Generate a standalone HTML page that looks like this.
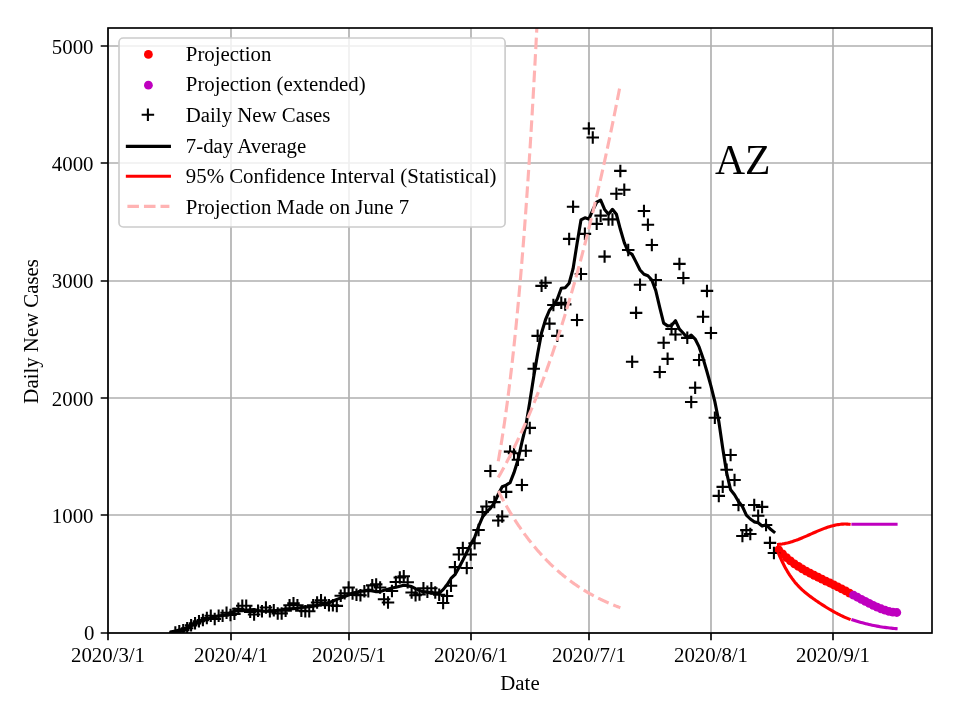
<!DOCTYPE html>
<html><head><meta charset="utf-8"><style>html,body{margin:0;padding:0;background:#fff;}svg{display:block;will-change:transform;}</style></head>
<body><svg width="960" height="720" viewBox="0 0 960 720">
<defs><clipPath id="ax"><rect x="108" y="28" width="824" height="605"/></clipPath></defs>
<rect width="960" height="720" fill="#fff"/>
<path d="M108 28V633M231 28V633M349 28V633M471 28V633M589 28V633M711 28V633M833 28V633M108 633H932M108 515H932M108 398H932M108 281H932M108 163H932M108 46H932" stroke="#b0b0b0" stroke-width="1.67" fill="none"/>
<g clip-path="url(#ax)">
<circle cx="778.66" cy="549.83" r="4.4" fill="#ff0000"/><circle cx="782.60" cy="553.95" r="4.4" fill="#ff0000"/><circle cx="786.54" cy="557.61" r="4.4" fill="#ff0000"/><circle cx="790.47" cy="560.88" r="4.4" fill="#ff0000"/><circle cx="794.41" cy="563.81" r="4.4" fill="#ff0000"/><circle cx="798.35" cy="566.46" r="4.4" fill="#ff0000"/><circle cx="802.29" cy="568.89" r="4.4" fill="#ff0000"/><circle cx="806.23" cy="571.14" r="4.4" fill="#ff0000"/><circle cx="810.16" cy="573.25" r="4.4" fill="#ff0000"/><circle cx="814.10" cy="575.27" r="4.4" fill="#ff0000"/><circle cx="818.04" cy="577.23" r="4.4" fill="#ff0000"/><circle cx="821.98" cy="579.15" r="4.4" fill="#ff0000"/><circle cx="825.92" cy="581.06" r="4.4" fill="#ff0000"/><circle cx="829.85" cy="582.98" r="4.4" fill="#ff0000"/><circle cx="833.79" cy="584.92" r="4.4" fill="#ff0000"/><circle cx="837.73" cy="586.89" r="4.4" fill="#ff0000"/><circle cx="841.67" cy="588.90" r="4.4" fill="#ff0000"/><circle cx="845.61" cy="590.95" r="4.4" fill="#ff0000"/><circle cx="849.54" cy="593.03" r="4.4" fill="#ff0000"/><circle cx="853.48" cy="595.13" r="4.4" fill="#bf00bf"/><circle cx="857.42" cy="597.25" r="4.4" fill="#bf00bf"/><circle cx="861.36" cy="599.35" r="4.4" fill="#bf00bf"/><circle cx="865.30" cy="601.43" r="4.4" fill="#bf00bf"/><circle cx="869.23" cy="603.44" r="4.4" fill="#bf00bf"/><circle cx="873.17" cy="605.36" r="4.4" fill="#bf00bf"/><circle cx="877.11" cy="607.15" r="4.4" fill="#bf00bf"/><circle cx="881.05" cy="608.77" r="4.4" fill="#bf00bf"/><circle cx="884.99" cy="610.16" r="4.4" fill="#bf00bf"/><circle cx="888.92" cy="611.29" r="4.4" fill="#bf00bf"/><circle cx="892.86" cy="612.09" r="4.4" fill="#bf00bf"/><circle cx="896.80" cy="612.50" r="4.4" fill="#bf00bf"/>
<path d="M169.10 632.41h12.5M175.35 626.16v12.5M173.03 631.36h12.5M179.28 625.11v12.5M176.97 630.30h12.5M183.22 624.05v12.5M180.91 628.30h12.5M187.16 622.05v12.5M184.85 625.37h12.5M191.10 619.12v12.5M188.79 623.37h12.5M195.04 617.12v12.5M192.72 621.26h12.5M198.97 615.01v12.5M196.66 620.09h12.5M202.91 613.84v12.5M200.60 617.97h12.5M206.85 611.72v12.5M204.54 615.74h12.5M210.79 609.49v12.5M208.48 618.91h12.5M214.73 612.66v12.5M212.41 615.74h12.5M218.66 609.49v12.5M216.35 615.74h12.5M222.60 609.49v12.5M220.29 612.81h12.5M226.54 606.56v12.5M224.23 615.04h12.5M230.48 608.79v12.5M228.17 613.86h12.5M234.42 607.61v12.5M232.10 608.82h12.5M238.35 602.57v12.5M236.04 605.76h12.5M242.29 599.51v12.5M239.98 605.76h12.5M246.23 599.51v12.5M243.92 611.87h12.5M250.17 605.62v12.5M247.86 614.45h12.5M254.11 608.20v12.5M251.79 610.81h12.5M258.04 604.56v12.5M255.73 611.28h12.5M261.98 605.03v12.5M259.67 607.52h12.5M265.92 601.27v12.5M263.61 611.28h12.5M269.86 605.03v12.5M267.55 610.34h12.5M273.80 604.09v12.5M271.48 613.39h12.5M277.73 607.14v12.5M275.42 613.39h12.5M281.67 607.14v12.5M279.36 610.81h12.5M285.61 604.56v12.5M283.30 605.29h12.5M289.55 599.04v12.5M287.24 603.30h12.5M293.49 597.05v12.5M291.17 605.29h12.5M297.42 599.04v12.5M295.11 610.81h12.5M301.36 604.56v12.5M299.05 611.28h12.5M305.30 605.03v12.5M302.99 611.28h12.5M309.24 605.03v12.5M306.93 605.29h12.5M313.18 599.04v12.5M310.86 602.48h12.5M317.11 596.23v12.5M314.80 600.25h12.5M321.05 594.00v12.5M318.74 602.83h12.5M324.99 596.58v12.5M322.68 605.29h12.5M328.93 599.04v12.5M326.62 605.29h12.5M332.87 599.04v12.5M330.55 605.88h12.5M336.80 599.63v12.5M334.49 595.78h12.5M340.74 589.53v12.5M338.43 593.20h12.5M344.68 586.95v12.5M342.37 587.45h12.5M348.62 581.20v12.5M346.31 593.44h12.5M352.56 587.19v12.5M350.24 594.85h12.5M356.49 588.60v12.5M354.18 595.31h12.5M360.43 589.06v12.5M358.12 591.32h12.5M364.37 585.07v12.5M362.06 591.32h12.5M368.31 585.07v12.5M366.00 585.34h12.5M372.25 579.09v12.5M369.93 584.40h12.5M376.18 578.15v12.5M373.87 587.45h12.5M380.12 581.20v12.5M377.81 599.31h12.5M384.06 593.06v12.5M381.75 602.48h12.5M388.00 596.23v12.5M385.69 590.97h12.5M391.94 584.72v12.5M389.62 581.93h12.5M395.87 575.68v12.5M393.56 577.47h12.5M399.81 571.22v12.5M397.50 576.18h12.5M403.75 569.93v12.5M401.44 582.17h12.5M407.69 575.92v12.5M405.38 592.50h12.5M411.63 586.25v12.5M409.31 595.31h12.5M415.56 589.06v12.5M413.25 594.49h12.5M419.50 588.24v12.5M417.19 588.27h12.5M423.44 582.02v12.5M421.13 591.68h12.5M427.38 585.43v12.5M425.07 588.27h12.5M431.32 582.02v12.5M429.00 592.50h12.5M435.25 586.25v12.5M432.94 594.73h12.5M439.19 588.48v12.5M436.88 602.95h12.5M443.13 596.70v12.5M440.82 596.02h12.5M447.07 589.77v12.5M444.76 585.81h12.5M451.01 579.56v12.5M448.69 567.14h12.5M454.94 560.89v12.5M452.63 554.58h12.5M458.88 548.33v12.5M456.57 548.00h12.5M462.82 541.75v12.5M460.51 567.96h12.5M466.76 561.71v12.5M464.45 554.58h12.5M470.70 548.33v12.5M468.38 543.31h12.5M474.63 537.06v12.5M472.32 530.04h12.5M478.57 523.79v12.5M476.26 511.96h12.5M482.51 505.71v12.5M480.20 506.56h12.5M486.45 500.31v12.5M484.14 470.99h12.5M490.39 464.74v12.5M488.07 502.10h12.5M494.32 495.85v12.5M492.01 520.53h12.5M498.26 514.28v12.5M495.95 516.54h12.5M502.20 510.29v12.5M499.89 491.89h12.5M506.14 485.64v12.5M503.83 451.62h12.5M510.08 445.37v12.5M507.76 453.26h12.5M514.01 447.01v12.5M511.70 459.83h12.5M517.95 453.58v12.5M515.64 484.96h12.5M521.89 478.71v12.5M519.58 450.68h12.5M525.83 444.43v12.5M523.52 427.90h12.5M529.77 421.65v12.5M527.45 368.73h12.5M533.70 362.48v12.5M531.39 335.86h12.5M537.64 329.61v12.5M535.33 285.85h12.5M541.58 279.60v12.5M539.27 282.80h12.5M545.52 276.55v12.5M543.21 323.65h12.5M549.46 317.40v12.5M547.14 304.98h12.5M553.39 298.73v12.5M551.08 335.86h12.5M557.33 329.61v12.5M555.02 302.87h12.5M561.27 296.62v12.5M558.96 304.40h12.5M565.21 298.15v12.5M562.90 238.89h12.5M569.15 232.64v12.5M566.83 206.72h12.5M573.08 200.47v12.5M570.77 320.01h12.5M577.02 313.76v12.5M574.71 273.99h12.5M580.96 267.74v12.5M578.65 233.84h12.5M584.90 227.59v12.5M582.59 128.53h12.5M588.84 122.28v12.5M586.52 137.57h12.5M592.77 131.32v12.5M590.46 223.86h12.5M596.71 217.61v12.5M594.40 215.64h12.5M600.65 209.39v12.5M598.34 256.62h12.5M604.59 250.37v12.5M602.28 219.40h12.5M608.53 213.15v12.5M606.21 219.40h12.5M612.46 213.15v12.5M610.15 193.69h12.5M616.40 187.44v12.5M614.09 170.91h12.5M620.34 164.66v12.5M618.03 189.81h12.5M624.28 183.56v12.5M621.97 250.04h12.5M628.22 243.79v12.5M625.90 361.69h12.5M632.15 355.44v12.5M629.84 312.85h12.5M636.09 306.60v12.5M633.78 284.67h12.5M640.03 278.42v12.5M637.72 210.95h12.5M643.97 204.70v12.5M641.66 224.68h12.5M647.91 218.43v12.5M645.59 244.99h12.5M651.84 238.74v12.5M649.53 279.98h12.5M655.78 273.73v12.5M653.47 372.02h12.5M659.72 365.77v12.5M657.41 342.79h12.5M663.66 336.54v12.5M661.35 358.87h12.5M667.60 352.62v12.5M665.28 328.93h12.5M671.53 322.68v12.5M669.22 334.45h12.5M675.47 328.20v12.5M673.16 263.89h12.5M679.41 257.64v12.5M677.10 277.98h12.5M683.35 271.73v12.5M681.04 337.86h12.5M687.29 331.61v12.5M684.97 401.96h12.5M691.22 395.71v12.5M688.91 387.75h12.5M695.16 381.50v12.5M692.85 360.05h12.5M699.10 353.80v12.5M696.79 316.72h12.5M703.04 310.47v12.5M700.73 290.90h12.5M706.98 284.65v12.5M704.66 333.04h12.5M710.91 326.79v12.5M708.60 417.81h12.5M714.85 411.56v12.5M712.54 495.88h12.5M718.79 489.63v12.5M716.48 486.84h12.5M722.73 480.59v12.5M720.42 469.81h12.5M726.67 463.56v12.5M724.35 455.02h12.5M730.60 448.77v12.5M728.29 480.03h12.5M734.54 473.78v12.5M732.23 505.03h12.5M738.48 498.78v12.5M736.17 536.03h12.5M742.42 529.78v12.5M740.11 530.16h12.5M746.36 523.91v12.5M744.04 534.03h12.5M750.29 527.78v12.5M747.98 505.03h12.5M754.23 498.78v12.5M751.92 515.83h12.5M758.17 509.58v12.5M755.86 506.91h12.5M762.11 500.66v12.5M759.80 524.99h12.5M766.05 518.74v12.5M763.73 542.84h12.5M769.98 536.59v12.5M767.67 552.93h12.5M773.92 546.68v12.5" stroke="#000" stroke-width="2.08" fill="none"/>
<polyline points="171.41,631.77 175.35,631.07 179.28,630.12 183.22,629.16 187.16,627.48 191.10,625.72 195.04,623.81 198.97,621.73 202.91,620.39 206.85,619.01 210.79,617.92 214.73,616.71 218.66,615.99 222.60,615.41 226.54,614.42 230.48,612.54 234.42,611.11 238.35,610.56 242.29,610.79 246.23,610.19 250.17,609.82 254.11,609.64 258.04,610.43 261.98,611.08 265.92,611.30 269.86,611.15 273.80,611.15 277.73,610.29 281.67,609.69 285.61,608.83 289.55,608.90 293.49,608.60 297.42,608.30 301.36,607.51 305.30,607.10 309.24,606.67 313.18,606.32 317.11,605.53 321.05,604.67 324.99,603.90 328.93,602.54 332.87,601.22 336.80,599.39 340.74,598.05 344.68,596.56 348.62,595.13 352.56,593.05 356.49,592.41 360.43,591.29 364.37,590.85 368.31,590.00 372.25,590.64 376.18,591.66 380.12,591.61 384.06,590.27 388.00,589.14 391.94,587.97 395.87,587.21 399.81,586.24 403.75,585.22 407.69,585.72 411.63,586.63 415.56,588.66 419.50,590.38 423.44,591.86 427.38,592.18 431.32,593.27 435.25,593.49 439.19,593.13 443.13,589.63 447.07,584.82 451.01,578.46 454.94,574.64 458.88,567.73 462.82,560.20 466.76,552.23 470.70,544.35 474.63,537.49 478.57,526.48 482.51,517.08 486.45,512.21 490.39,508.39 494.32,502.94 498.26,494.32 502.20,486.70 506.14,485.11 510.08,482.66 514.01,472.68 517.95,460.02 521.89,442.43 525.83,425.89 529.77,401.97 533.70,376.68 537.64,353.64 541.58,332.82 545.52,319.68 549.46,310.27 553.39,305.77 557.33,299.06 561.27,288.20 565.21,287.68 569.15,283.25 573.08,268.67 577.02,243.77 580.96,219.94 584.90,217.79 588.84,219.06 592.77,210.01 596.71,202.21 600.65,200.15 604.59,209.45 608.53,214.22 612.46,209.35 616.40,214.27 620.34,229.28 624.28,242.63 628.22,251.95 632.15,254.42 636.09,262.10 640.03,269.98 643.97,274.26 647.91,275.74 651.84,280.01 655.78,290.61 659.72,307.47 663.66,323.15 667.60,325.85 671.53,325.56 675.47,320.68 679.41,329.14 683.35,333.26 687.29,337.71 691.22,335.17 695.16,339.03 699.10,346.90 703.04,358.32 706.98,371.73 710.91,385.89 714.85,401.57 718.79,421.33 722.73,448.35 726.67,472.92 730.60,489.81 734.54,494.70 738.48,501.44 742.42,506.48 746.36,515.16 750.29,519.00 754.23,521.86 758.17,522.83 762.11,526.08 766.05,524.76 769.98,528.70 773.92,531.92" stroke="#000" stroke-width="3.125" fill="none" stroke-linejoin="round" stroke-linecap="square"/>
<polyline points="777.00,544.45 778.25,544.40 779.49,544.30 780.74,544.18 781.99,544.02 783.24,543.82 784.48,543.60 785.73,543.34 786.98,543.06 788.23,542.75 789.47,542.41 790.72,542.05 791.97,541.67 793.22,541.26 794.46,540.84 795.71,540.39 796.96,539.93 798.21,539.46 799.45,538.96 800.70,538.46 801.95,537.95 803.20,537.42 804.44,536.89 805.69,536.35 806.94,535.81 808.19,535.26 809.43,534.71 810.68,534.15 811.93,533.60 813.18,533.05 814.42,532.50 815.67,531.96 816.92,531.42 818.17,530.89 819.41,530.37 820.66,529.86 821.91,529.37 823.16,528.88 824.40,528.41 825.65,527.96 826.90,527.52 828.15,527.10 829.39,526.70 830.64,526.33 831.89,525.98 833.14,525.65 834.38,525.35 835.63,525.08 836.88,524.83 838.13,524.62 839.37,524.44 840.62,524.29 841.87,524.17 843.12,524.10 844.36,524.06 845.61,524.06 846.86,524.10 848.11,524.18 849.35,524.31 850.60,524.48" stroke="#ff0000" stroke-width="3.125" fill="none" stroke-linejoin="round"/>
<polyline points="777.30,550.47 778.54,553.50 779.78,556.40 781.03,559.16 782.27,561.79 783.51,564.29 784.75,566.67 786.00,568.93 787.24,571.08 788.48,573.12 789.72,575.06 790.97,576.90 792.21,578.65 793.45,580.31 794.69,581.88 795.94,583.38 797.18,584.80 798.42,586.15 799.66,587.44 800.91,588.66 802.15,589.83 803.39,590.95 804.63,592.03 805.87,593.06 807.12,594.06 808.36,595.03 809.60,595.97 810.84,596.88 812.09,597.78 813.33,598.67 814.57,599.55 815.81,600.41 817.06,601.27 818.30,602.12 819.54,602.95 820.78,603.78 822.03,604.59 823.27,605.40 824.51,606.19 825.75,606.97 826.99,607.74 828.24,608.49 829.48,609.23 830.72,609.96 831.96,610.68 833.21,611.38 834.45,612.07 835.69,612.75 836.93,613.41 838.18,614.05 839.42,614.68 840.66,615.30 841.90,615.90 843.15,616.49 844.39,617.05 845.63,617.61 846.87,618.14 848.12,618.66 849.36,619.17 850.60,619.65" stroke="#ff0000" stroke-width="3.125" fill="none" stroke-linejoin="round"/>
<polyline points="851.4,524.3 897.6,524.3" stroke="#bf00bf" stroke-width="3.125" fill="none"/>
<polyline points="851.40,619.51 852.99,620.03 854.59,620.54 856.18,621.03 857.77,621.51 859.37,621.98 860.96,622.43 862.55,622.86 864.14,623.28 865.74,623.68 867.33,624.07 868.92,624.45 870.52,624.81 872.11,625.16 873.70,625.49 875.30,625.81 876.89,626.11 878.48,626.40 880.08,626.67 881.67,626.93 883.26,627.17 884.86,627.40 886.45,627.62 888.04,627.82 889.63,628.00 891.23,628.17 892.82,628.33 894.41,628.47 896.01,628.60 897.60,628.71" stroke="#bf00bf" stroke-width="3.125" fill="none" stroke-linejoin="round"/>
<polyline points="498.26,461.24 498.55,459.60 498.84,457.95 499.13,456.28 499.42,454.59 499.72,452.89 500.01,451.18 500.30,449.44 500.59,447.69 500.88,445.92 501.17,444.14 501.46,442.34 501.75,440.52 502.04,438.69 502.33,436.83 502.62,434.96 502.91,433.07 503.20,431.17 503.50,429.24 503.79,427.30 504.08,425.34 504.37,423.36 504.66,421.36 504.95,419.34 505.24,417.30 505.53,415.25 505.82,413.17 506.11,411.08 506.40,408.96 506.69,406.82 506.98,404.67 507.27,402.49 507.57,400.29 507.86,398.07 508.15,395.83 508.44,393.57 508.73,391.29 509.02,388.98 509.31,386.65 509.60,384.31 509.89,381.93 510.18,379.54 510.47,377.12 510.76,374.68 511.05,372.22 511.34,369.73 511.64,367.22 511.93,364.69 512.22,362.13 512.51,359.55 512.80,356.94 513.09,354.31 513.38,351.65 513.67,348.97 513.96,346.26 514.25,343.52 514.54,340.76 514.83,337.98 515.12,335.16 515.41,332.32 515.71,329.46 516.00,326.56 516.29,323.64 516.58,320.69 516.87,317.71 517.16,314.71 517.45,311.67 517.74,308.61 518.03,305.51 518.32,302.39 518.61,299.24 518.90,296.05 519.19,292.84 519.48,289.60 519.78,286.32 520.07,283.02 520.36,279.68 520.65,276.31 520.94,272.91 521.23,269.48 521.52,266.01 521.81,262.51 522.10,258.98 522.39,255.41 522.68,251.81 522.97,248.18 523.26,244.51 523.56,240.80 523.85,237.06 524.14,233.29 524.43,229.47 524.72,225.63 525.01,221.74 525.30,217.82 525.59,213.86 525.88,209.86 526.17,205.83 526.46,201.76 526.75,197.64 527.04,193.49 527.33,189.30 527.63,185.07 527.92,180.80 528.21,176.49 528.50,172.13 528.79,167.74 529.08,163.30 529.37,158.82 529.66,154.30 529.95,149.74 530.24,145.13 530.53,140.48 530.82,135.78 531.11,131.04 531.40,126.25 531.70,121.42 531.99,116.54 532.28,111.62 532.57,106.65 532.86,101.63 533.15,96.56 533.44,91.44 533.73,86.28 534.02,81.07 534.31,75.80 534.60,70.49 534.89,65.13 535.18,59.71 535.47,54.24 535.77,48.73 536.06,43.15 536.35,37.53 536.64,31.85 536.93,26.12 537.22,20.33 537.51,14.49 537.80,8.59 538.09,2.64 538.38,-3.37 538.67,-9.44 538.96,-15.57 539.25,-21.75 539.54,-28.00 539.84,-34.30 540.13,-40.66 540.42,-47.09 540.71,-53.57 541.00,-60.12 541.29,-66.73 541.58,-73.40" stroke="#ffb3b3" stroke-width="3.125" fill="none" stroke-dasharray="11.56 5"/>
<polyline points="498.26,477.52 499.08,476.09 499.90,474.64 500.72,473.19 501.54,471.72 502.36,470.24 503.18,468.74 504.00,467.24 504.82,465.72 505.64,464.19 506.46,462.65 507.27,461.09 508.09,459.53 508.91,457.95 509.73,456.36 510.55,454.75 511.37,453.13 512.19,451.50 513.01,449.86 513.83,448.20 514.65,446.53 515.47,444.85 516.29,443.15 517.11,441.44 517.93,439.72 518.74,437.98 519.56,436.23 520.38,434.47 521.20,432.69 522.02,430.90 522.84,429.09 523.66,427.27 524.48,425.44 525.30,423.59 526.12,421.72 526.94,419.84 527.76,417.95 528.58,416.04 529.40,414.12 530.22,412.19 531.03,410.23 531.85,408.27 532.67,406.28 533.49,404.29 534.31,402.27 535.13,400.25 535.95,398.20 536.77,396.14 537.59,394.07 538.41,391.98 539.23,389.87 540.05,387.75 540.87,385.61 541.69,383.45 542.51,381.28 543.32,379.09 544.14,376.89 544.96,374.66 545.78,372.43 546.60,370.17 547.42,367.90 548.24,365.61 549.06,363.31 549.88,360.98 550.70,358.64 551.52,356.28 552.34,353.91 553.16,351.51 553.98,349.10 554.79,346.67 555.61,344.23 556.43,341.76 557.25,339.28 558.07,336.78 558.89,334.26 559.71,331.72 560.53,329.16 561.35,326.59 562.17,323.99 562.99,321.38 563.81,318.75 564.63,316.10 565.45,313.42 566.27,310.73 567.08,308.02 567.90,305.30 568.72,302.55 569.54,299.78 570.36,296.99 571.18,294.18 572.00,291.35 572.82,288.50 573.64,285.63 574.46,282.74 575.28,279.83 576.10,276.90 576.92,273.95 577.74,270.97 578.55,267.98 579.37,264.96 580.19,261.93 581.01,258.87 581.83,255.79 582.65,252.69 583.47,249.56 584.29,246.42 585.11,243.25 585.93,240.06 586.75,236.85 587.57,233.62 588.39,230.36 589.21,227.08 590.03,223.78 590.84,220.45 591.66,217.11 592.48,213.74 593.30,210.34 594.12,206.92 594.94,203.48 595.76,200.02 596.58,196.53 597.40,193.02 598.22,189.48 599.04,185.93 599.86,182.34 600.68,178.73 601.50,175.10 602.32,171.44 603.13,167.76 603.95,164.05 604.77,160.32 605.59,156.57 606.41,152.78 607.23,148.98 608.05,145.14 608.87,141.29 609.69,137.40 610.51,133.49 611.33,129.56 612.15,125.59 612.97,121.61 613.79,117.59 614.60,113.55 615.42,109.48 616.24,105.39 617.06,101.27 617.88,97.12 618.70,92.95 619.52,88.74 620.34,84.51" stroke="#ffb3b3" stroke-width="3.125" fill="none" stroke-dasharray="11.56 5"/>
<polyline points="498.26,491.01 499.08,492.59 499.90,494.15 500.72,495.70 501.54,497.22 502.36,498.73 503.18,500.23 504.00,501.71 504.82,503.17 505.64,504.62 506.46,506.05 507.27,507.47 508.09,508.87 508.91,510.26 509.73,511.63 510.55,512.99 511.37,514.33 512.19,515.66 513.01,516.97 513.83,518.28 514.65,519.56 515.47,520.83 516.29,522.09 517.11,523.34 517.93,524.57 518.74,525.79 519.56,526.99 520.38,528.19 521.20,529.37 522.02,530.53 522.84,531.69 523.66,532.83 524.48,533.96 525.30,535.08 526.12,536.18 526.94,537.28 527.76,538.36 528.58,539.43 529.40,540.49 530.22,541.53 531.03,542.57 531.85,543.59 532.67,544.61 533.49,545.61 534.31,546.60 535.13,547.58 535.95,548.55 536.77,549.51 537.59,550.46 538.41,551.40 539.23,552.33 540.05,553.25 540.87,554.15 541.69,555.05 542.51,555.94 543.32,556.82 544.14,557.69 544.96,558.55 545.78,559.40 546.60,560.24 547.42,561.07 548.24,561.89 549.06,562.71 549.88,563.51 550.70,564.31 551.52,565.09 552.34,565.87 553.16,566.64 553.98,567.40 554.79,568.16 555.61,568.90 556.43,569.64 557.25,570.37 558.07,571.09 558.89,571.80 559.71,572.51 560.53,573.20 561.35,573.89 562.17,574.57 562.99,575.25 563.81,575.91 564.63,576.57 565.45,577.22 566.27,577.87 567.08,578.51 567.90,579.14 568.72,579.76 569.54,580.38 570.36,580.99 571.18,581.59 572.00,582.18 572.82,582.77 573.64,583.36 574.46,583.93 575.28,584.50 576.10,585.07 576.92,585.62 577.74,586.18 578.55,586.72 579.37,587.26 580.19,587.79 581.01,588.32 581.83,588.84 582.65,589.36 583.47,589.87 584.29,590.37 585.11,590.87 585.93,591.36 586.75,591.85 587.57,592.33 588.39,592.80 589.21,593.27 590.03,593.74 590.84,594.20 591.66,594.66 592.48,595.11 593.30,595.55 594.12,595.99 594.94,596.42 595.76,596.85 596.58,597.28 597.40,597.70 598.22,598.12 599.04,598.53 599.86,598.93 600.68,599.33 601.50,599.73 602.32,600.12 603.13,600.51 603.95,600.89 604.77,601.27 605.59,601.65 606.41,602.02 607.23,602.39 608.05,602.75 608.87,603.11 609.69,603.46 610.51,603.81 611.33,604.16 612.15,604.50 612.97,604.84 613.79,605.17 614.60,605.50 615.42,605.83 616.24,606.15 617.06,606.47 617.88,606.79 618.70,607.10 619.52,607.41 620.34,607.71" stroke="#ffb3b3" stroke-width="3.125" fill="none" stroke-dasharray="11.56 5"/>
</g>
<rect x="108" y="28" width="824" height="605" fill="none" stroke="#000" stroke-width="1.67"/>
<path d="M108 633v7.3M231 633v7.3M349 633v7.3M471 633v7.3M589 633v7.3M711 633v7.3M833 633v7.3M108 633h-7.3M108 515h-7.3M108 398h-7.3M108 281h-7.3M108 163h-7.3M108 46h-7.3" stroke="#000" stroke-width="1.67" fill="none"/>
<g font-family="Liberation Serif" font-size="20.83" fill="#000">
<text x="108" y="662" text-anchor="middle">2020/3/1</text>
<text x="231" y="662" text-anchor="middle">2020/4/1</text>
<text x="349" y="662" text-anchor="middle">2020/5/1</text>
<text x="471" y="662" text-anchor="middle">2020/6/1</text>
<text x="589" y="662" text-anchor="middle">2020/7/1</text>
<text x="711" y="662" text-anchor="middle">2020/8/1</text>
<text x="833" y="662" text-anchor="middle">2020/9/1</text>
<text x="94.5" y="640" text-anchor="end">0</text>
<text x="93.5" y="523" text-anchor="end">1000</text>
<text x="93.5" y="406" text-anchor="end">2000</text>
<text x="93.5" y="288" text-anchor="end">3000</text>
<text x="93.5" y="171" text-anchor="end">4000</text>
<text x="93.5" y="54" text-anchor="end">5000</text>
<text x="520" y="690" text-anchor="middle">Date</text>
<text transform="translate(38.1 331.35) rotate(-90)" text-anchor="middle">Daily New Cases</text>
<text x="742.7" y="174" text-anchor="middle" font-size="41.67">AZ</text>
</g>
<rect x="119" y="38" width="386.1" height="189" rx="4.2" ry="4.2" fill="#fff" fill-opacity="0.8" stroke="#cccccc" stroke-width="1.67"/>
<text x="185.8" y="60.69" font-family="Liberation Serif" font-size="20.83">Projection</text>
<text x="185.8" y="91.33" font-family="Liberation Serif" font-size="20.83">Projection (extended)</text>
<text x="185.8" y="121.97" font-family="Liberation Serif" font-size="20.83">Daily New Cases</text>
<text x="185.8" y="152.61" font-family="Liberation Serif" font-size="20.83">7-day Average</text>
<text x="185.8" y="183.25" font-family="Liberation Serif" font-size="20.83">95% Confidence Interval (Statistical)</text>
<text x="185.8" y="213.89" font-family="Liberation Serif" font-size="20.83">Projection Made on June 7</text>
<circle cx="148.4" cy="54.40" r="4.4" fill="#ff0000"/>
<circle cx="148.4" cy="85.20" r="4.4" fill="#bf00bf"/>
<path d="M141.65 114.80h12.5M147.9 108.55v12.5" stroke="#000" stroke-width="2.08"/>
<path d="M127.4 146.40H169.4" stroke="#000" stroke-width="3.125" stroke-linecap="square"/>
<path d="M127.4 176.30H169.4" stroke="#ff0000" stroke-width="3.125" stroke-linecap="square"/>
<path d="M127.4 206.40H169.4" stroke="#ffb3b3" stroke-width="3.125" stroke-dasharray="11.56 5"/>
</svg></body></html>
